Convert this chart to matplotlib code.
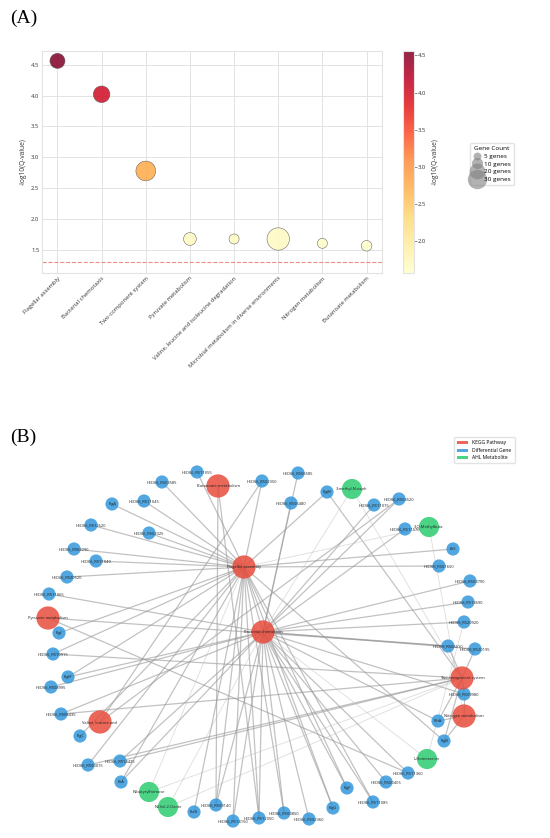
import matplotlib
matplotlib.use("Agg")
import matplotlib.pyplot as plt
import matplotlib.colors as mcolors
from matplotlib.lines import Line2D
from matplotlib.patches import Patch
import numpy as np

plt.rcParams['font.family'] = ['Open Sans', 'DejaVu Sans']

# ---------------- Panel A data ----------------
pathways = ["Flagellar assembly", "Bacterial chemotaxis", "Two-component system",
            "Pyruvate metabolism", "Valine, leucine and isoleucine degradation",
            "Microbial metabolism in diverse environments", "Nitrogen metabolism",
            "Butanoate metabolism"]
neg_log_q = [4.56, 4.02, 2.78, 1.68, 1.68, 1.68, 1.61, 1.57]
gene_count = [18, 22, 31, 13, 8, 40, 8, 9]
legend_counts = [5, 10, 20, 30]
q_threshold = 1.301

# ---------------- Panel B data ----------------
node_names = [
    "Flagellar assembly", "Bacterial chemotaxis", "Two-component system",
    "Butanoate metabolism", "Pyruvate metabolism", "Valine, leucine and",
    "Nitrogen metabolism",
    "3-methyl-N-oxph", "3-O-Methylbuta", "L-Homoserine", "N-butyrylhomose",
    "N-(3o)-2-Oxote",
    "HED66_RS11055", "HED66_RS03585", "HED66_RS02350", "flgA", "HED66_RS11045",
    "HED66_RS12620", "HED66_RS02325", "HED66_RS02290", "HED66_RS11040",
    "HED66_RS20520", "HED66_RS11065", "flgI", "HED66_RS10915", "flgH",
    "HED66_RS08995", "HED66_RS08435", "flgC", "HED66_RS14425", "HED66_RS00075",
    "fliA", "flaB", "HED66_RS09140", "HED66_RS14150", "HED66_RS12050",
    "HED66_RS00850", "HED66_RS02360", "flgG", "flgF", "HED66_RS11085",
    "HED66_RS00405", "HED66_RS11360", "flgB", "flhA", "HED66_RS09980",
    "HED66_RS06610", "HED66_RS20195", "HED66_RS20920", "HED66_RS13690",
    "HED66_RS03790", "HED66_RS01650", "fliS", "HED66_RS11570", "HED66_RS04520",
    "HED66_RS11075", "flgM", "HED66_RS06480", "HED66_RS06585"]
node_types = (["KEGG Pathway"] * 7 + ["AHL Metabolite"] * 5 +
              ["Differential Gene"] * 47)
layout_x = [2.44, 2.63, 4.62, 2.18, 0.48, 1.00, 4.64,
            3.52, 4.29, 4.27, 1.49, 1.68,
            1.97, 1.62, 2.62, 1.12, 1.44, 0.91, 1.49, 0.74, 0.96, 0.67, 0.49,
            0.59, 0.53, 0.68, 0.51, 0.61, 0.80, 1.20, 0.88, 1.21, 1.94, 2.16,
            2.33, 2.59, 2.84, 3.09, 3.33, 3.47, 3.73, 3.86, 4.08, 4.44, 4.38,
            4.64, 4.48, 4.75, 4.64, 4.68, 4.70, 4.39, 4.53, 4.05, 3.99, 3.74,
            3.27, 2.91, 2.98]
layout_y = [2.71, 2.06, 1.60, 3.52, 2.20, 1.16, 1.22,
            3.49, 3.11, 0.79, 0.46, 0.31,
            3.66, 3.56, 3.57, 3.34, 3.37, 3.13, 3.05, 2.89, 2.77, 2.61, 2.44,
            2.05, 1.84, 1.61, 1.51, 1.24, 1.02, 0.77, 0.73, 0.56, 0.26, 0.33,
            0.17, 0.20, 0.25, 0.19, 0.30, 0.50, 0.36, 0.56, 0.65, 0.97, 1.17,
            1.44, 1.92, 1.89, 2.16, 2.36, 2.57, 2.72, 2.89, 3.09, 3.39, 3.33,
            3.46, 3.35, 3.65]

strong_edges = [
    ("Flagellar assembly", g) for g in [
        "HED66_RS11055", "HED66_RS03585", "HED66_RS02350", "flgA", "HED66_RS11045",
        "HED66_RS12620", "HED66_RS02325", "HED66_RS02290", "HED66_RS11040",
        "HED66_RS20520", "flgI", "HED66_RS10915", "flgH", "flgM", "fliS",
        "HED66_RS01650", "flaB", "HED66_RS09140", "HED66_RS14150", "flgG", "flgF",
        "flgB", "flgC", "HED66_RS12050", "HED66_RS00850", "HED66_RS11085",
        "HED66_RS00075", "fliA", "Bacterial chemotaxis"]
] + [
    ("Bacterial chemotaxis", g) for g in [
        "HED66_RS06585", "HED66_RS06480", "HED66_RS11075", "HED66_RS04520",
        "HED66_RS11570", "HED66_RS03790", "HED66_RS13690", "HED66_RS20920",
        "HED66_RS06610", "HED66_RS11065", "flgH", "HED66_RS08995",
        "HED66_RS08435", "HED66_RS14425", "fliA", "HED66_RS12050",
        "HED66_RS00850", "HED66_RS02360", "HED66_RS11085", "HED66_RS00405",
        "HED66_RS11360", "flhA", "HED66_RS09980", "HED66_RS14150",
        "HED66_RS09140", "flgG", "flgF", "HED66_RS20195"]
] + [
    ("Two-component system", g) for g in [
        "flgM", "HED66_RS14425", "HED66_RS20195", "HED66_RS06610",
        "HED66_RS09980", "flhA", "flgB", "HED66_RS08435", "HED66_RS10915",
        "HED66_RS00075"]
] + [
    ("Butanoate metabolism", "HED66_RS09140"),
    ("Butanoate metabolism", "HED66_RS12050"),
    ("Pyruvate metabolism", "HED66_RS11360"),
    ("Pyruvate metabolism", "HED66_RS06610"),
    ("Valine, leucine and", "HED66_RS02350"),
    ("Valine, leucine and", "HED66_RS04520"),
    ("Nitrogen metabolism", "flhA"),
    ("Nitrogen metabolism", "HED66_RS09980"),
    ("Nitrogen metabolism", "flgB"),
]
weak_edges = [
    ("3-methyl-N-oxph", "Bacterial chemotaxis"),
    ("3-methyl-N-oxph", "Two-component system"),
    ("3-O-Methylbuta", "Flagellar assembly"),
    ("3-O-Methylbuta", "Nitrogen metabolism"),
    ("L-Homoserine", "Bacterial chemotaxis"),
    ("L-Homoserine", "HED66_RS20920"),
    ("N-butyrylhomose", "Two-component system"),
    ("N-butyrylhomose", "Flagellar assembly"),
    ("N-(3o)-2-Oxote", "Bacterial chemotaxis"),
    ("N-(3o)-2-Oxote", "Two-component system"),
]

type_colors = {"KEGG Pathway": "#e74c3c", "Differential Gene": "#3498db",
               "AHL Metabolite": "#2ecc71"}
type_sizes = {"KEGG Pathway": 280, "Differential Gene": 90, "AHL Metabolite": 210}

# ---------------- Figure ----------------
fig = plt.figure(figsize=(5.5, 8.38), dpi=100)
W, H = 550, 838

# Panel A
axA = fig.add_axes([42 / W, 1 - 273 / H, 340 / W, 222 / H])
xs = np.arange(len(pathways))
cmap = plt.get_cmap("YlOrRd")
norm = mcolors.Normalize(vmin=min(neg_log_q), vmax=max(neg_log_q))
sc = axA.scatter(xs, neg_log_q, s=np.array(gene_count) * 6.5, c=neg_log_q,
                 cmap=cmap, norm=norm, alpha=0.85, edgecolors="#555555",
                 linewidths=0.4, zorder=3)
axA.axhline(q_threshold, color="#e8706a", ls="--", lw=0.8, alpha=0.8, zorder=2)
axA.set_xlim(-0.35, len(pathways) - 0.65)
axA.set_ylim(1.13, 4.72)
axA.set_yticks([1.5, 2.0, 2.5, 3.0, 3.5, 4.0, 4.5])
axA.set_xticks(xs)
axA.set_xticklabels(pathways, rotation=45, ha="right", fontsize=4.2,
                    rotation_mode="anchor", color="#333333")
axA.tick_params(axis="y", labelsize=4.2, colors="#333333", length=0, pad=2)
axA.tick_params(axis="x", length=0, pad=2)
axA.set_ylabel("-log10(Q-value)", fontsize=4.8, color="#333333", labelpad=3)
axA.grid(True, color="#e3e3e3", lw=0.7)
axA.set_axisbelow(True)
for sp in axA.spines.values():
    sp.set_color("#e3e3e3")
    sp.set_linewidth(0.8)

cax = fig.add_axes([403 / W, 1 - 273 / H, 11 / W, 222 / H])
cb = fig.colorbar(plt.cm.ScalarMappable(norm=norm, cmap=cmap), cax=cax,
                  alpha=0.85)
cb.set_ticks([2.0, 2.5, 3.0, 3.5, 4.0, 4.5])
cb.ax.tick_params(labelsize=4.2, length=2, width=0.4, colors="#333333", pad=1)
cb.outline.set_edgecolor("#e3e3e3")
cb.set_label("-log10(Q-value)", fontsize=4.8, color="#333333", labelpad=4)

size_handles = [Line2D([], [], marker="o", ls="", color="gray", alpha=0.6,
                       markeredgewidth=0, markersize=np.sqrt(c * 6.5))
                for c in legend_counts]
fig.legend(size_handles, [f"{c} genes" for c in legend_counts],
           title="Gene Count", loc="center", bbox_to_anchor=(492 / W, 1 - 164 / H),
           fontsize=4.6, title_fontsize=4.6, labelspacing=0.35, handletextpad=0.4,
           borderpad=0.5, frameon=True, edgecolor="#dddddd", fancybox=True,
           handlelength=1.2)

fig.text(10 / W, 1 - 18 / H, "(A)", fontsize=14, family="Liberation Serif",
         va="center", ha="left")
fig.text(10 / W, 1 - 437 / H, "(B)", fontsize=14, family="Liberation Serif",
         va="center", ha="left")

# Panel B
axB = fig.add_axes([0, 0, 1, 419 / H])
axB.set_xlim(0, 5.5)
axB.set_ylim(0, 4.19)
axB.axis("off")
pos = {n: (x, y) for n, x, y in zip(node_names, layout_x, layout_y)}
for a, b in strong_edges:
    axB.plot([pos[a][0], pos[b][0]], [pos[a][1], pos[b][1]], color="#999999",
             lw=0.9, alpha=0.6, zorder=1)
for a, b in weak_edges:
    axB.plot([pos[a][0], pos[b][0]], [pos[a][1], pos[b][1]], color="#bbbbbb",
             lw=0.6, alpha=0.5, zorder=1)
for t in ["Differential Gene", "AHL Metabolite", "KEGG Pathway"]:
    idx = [i for i, tt in enumerate(node_types) if tt == t]
    axB.scatter([layout_x[i] for i in idx], [layout_y[i] for i in idx],
                s=type_sizes[t], color=type_colors[t], alpha=0.85,
                edgecolors="none", zorder=3)
for n, x, y in zip(node_names, layout_x, layout_y):
    axB.text(x, y, n, fontsize=2.9, ha="center", va="center", color="#222222",
             zorder=4)

type_handles = [Patch(facecolor=type_colors[t], edgecolor="none", alpha=0.85)
                for t in ["KEGG Pathway", "Differential Gene", "AHL Metabolite"]]
axB.legend(type_handles, ["KEGG Pathway", "Differential Gene", "AHL Metabolite"],
           loc="upper right", bbox_to_anchor=(517 / W, 1 - (437 - 419) / 419 + 0.005),
           fontsize=3.6, handlelength=2.2, handleheight=0.5, labelspacing=0.5,
           borderpad=0.6, frameon=True, edgecolor="#dddddd")

fig.savefig("out.png", dpi=100, facecolor="white")
